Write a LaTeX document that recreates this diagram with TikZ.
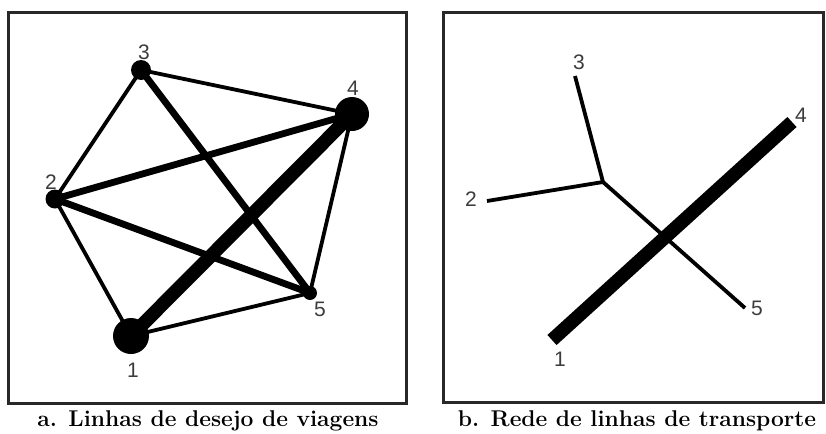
\documentclass[tikz,border=0pt]{standalone}
\usepackage{fontspec}
\newfontfamily\rotulofont{Liberation Sans}
\usepackage{tikz}
\usetikzlibrary{backgrounds}
\definecolor{corborda}{RGB}{40,40,40}
\definecolor{corrotulo}{RGB}{60,60,60}

\begin{document}
\begin{tikzpicture}[x=0.5pt, y=-0.5pt,
  no/.style={circle, fill=black, inner sep=0pt},
  rotulo/.style={font=\rotulofont\fontsize{10.5}{10.5}\selectfont, text=corrotulo, inner sep=0pt},
  fina/.style={line width=1.9pt},
  media/.style={line width=3.4pt},
  grossa/.style={line width=6.8pt},
  quadro/.style={draw=corborda, line width=1.5pt},
  legenda/.style={font=\bfseries\fontsize{11.4}{11.4}\selectfont, inner sep=0pt}
]
  \useasboundingbox (0,0) rectangle (826,434);

  % a. linhas de desejo
  \draw[quadro] (8,12) rectangle (406,403);
  \node[no, minimum size=18pt] (n1) at (131,336) {};
  \node[no, minimum size=9.5pt] (n2) at (55,199) {};
  \node[no, minimum size=10pt] (n3) at (141,70) {};
  \node[no, minimum size=17pt] (n4) at (352,114) {};
  \node[no, minimum size=7pt] (n5) at (310,293) {};
  \node[rotulo] (r1) at (133,370) {1};
  \node[rotulo] (r2) at (51,182) {2};
  \node[rotulo] (r3) at (144,52) {3};
  \node[rotulo] (r4) at (353,88) {4};
  \node[rotulo] (r5) at (320,309) {5};

  \begin{pgfonlayer}{background}
    \draw[grossa] (n1.center) -- (n4.center);
    \draw[media] (n2.center) -- (n4.center);
    \draw[media] (n3.center) -- (n5.center);
    \draw[media] (n2.center) -- (n5.center);
    \draw[fina] (n3.center) -- (n4.center);
    \draw[fina] (n2.center) -- (n3.center);
    \draw[fina] (n1.center) -- (n2.center);
    \draw[fina] (n1.center) -- (n5.center);
    \draw[fina] (n4.center) -- (n5.center);
  \end{pgfonlayer}

  \node[legenda] (lega) at (208,421) {a. Linhas de desejo de viagens};

  % b. rede de transporte
  \draw[quadro] (443,12) rectangle (823,402);
  \coordinate (b1) at (552,340);
  \coordinate (b2) at (487,201);
  \coordinate (b3) at (575,76);
  \coordinate (b4) at (792,122);
  \coordinate (b5) at (745,308);
  \coordinate (bj) at (603,182);
  \node[rotulo] (s1) at (560,359) {1};
  \node[rotulo] (s2) at (471,199) {2};
  \node[rotulo] (s3) at (579,62) {3};
  \node[rotulo] (s4) at (801,115) {4};
  \node[rotulo] (s5) at (757,308) {5};

  \draw[fina] (b3) -- (bj);
  \draw[fina] (b2) -- (bj);
  \draw[fina] (bj) -- (b5);
  \draw[grossa] (b1) -- (b4);

  \node[legenda] (legb) at (637,421) {b. Rede de linhas de transporte};
\end{tikzpicture}
\end{document}
